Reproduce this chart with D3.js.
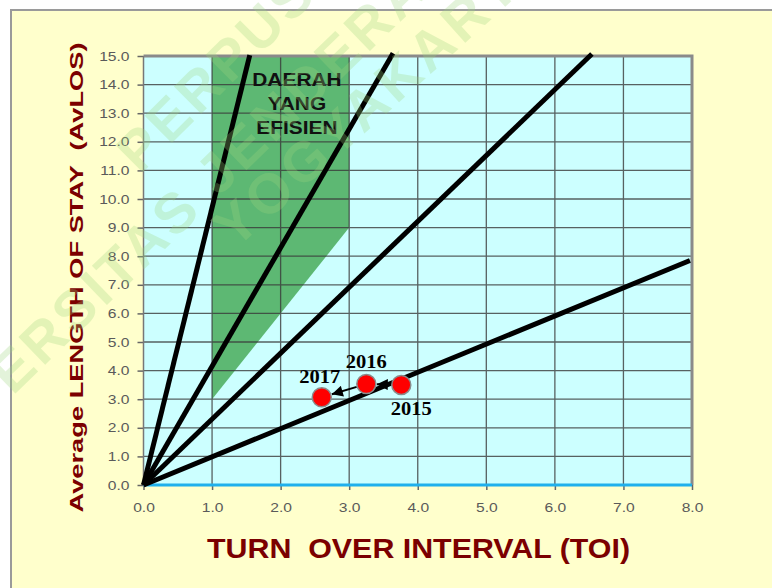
<!DOCTYPE html>
<html>
<head>
<meta charset="utf-8">
<script src="https://cdn.jsdelivr.net/npm/d3@7/dist/d3.min.js"></script>
<style>
  body { margin: 0; background: #ffffff; }
  svg { display: block; }
  text { white-space: pre; }
</style>
</head>
<body>
<svg id="chart" width="772" height="588"></svg>
<script>
// Barber-Johnson graph: hospital bed efficiency 2015-2017

// Yearly indicators (TOI in days, AvLOS in days)
const years = ["2015", "2016", "2017"];
const toiValues = [3.76, 3.25, 2.60];
const losValues = [3.50, 3.53, 3.07];

// BOR reference lines, drawn from the origin to these end points
const borLineEndToi = [1.55, 3.64, 6.54, 7.97];
const borLineEndLos = [15.03, 15.10, 15.07, 7.85];

// Efficient region ("Daerah yang efisien") vertices
const efficientToi = [1, 3, 3, 1];
const efficientLos = [15, 15, 9, 3];

// Axis ticks
const xTickValues = [0, 1, 2, 3, 4, 5, 6, 7, 8];
const xTickLabels = ["0.0", "1.0", "2.0", "3.0", "4.0", "5.0", "6.0", "7.0", "8.0"];
const yTickValues = [0, 1, 2, 3, 4, 5, 6, 7, 8, 9, 10, 11, 12, 13, 14, 15];
const yTickLabels = ["0.0", "1.0", "2.0", "3.0", "4.0", "5.0", "6.0", "7.0", "8.0",
                     "9.0", "10.0", "11.0", "12.0", "13.0", "14.0", "15.0"];

// Label placement around each year's point (pixels)
const yearLabelOffset = { "2015": [10, 30], "2016": [0, -16], "2017": [-2, -14] };

const svg = d3.select("#chart");
const x = d3.scaleLinear().domain([0, 8]).range([143.5, 692]);
const y = d3.scaleLinear().domain([0, 15]).range([485, 56]);

// Widen text horizontally by a factor
function stretch(sel, f) {
  sel.each(function () {
    const w = this.getComputedTextLength();
    d3.select(this).attr("textLength", w * f).attr("lengthAdjust", "spacingAndGlyphs");
  });
}

// Outer panel
svg.append("rect").attr("x", 11).attr("y", 10).attr("width", 800).attr("height", 600)
  .attr("fill", "#FFFFCC").attr("stroke", "#9a9a9a").attr("stroke-width", 2);

// Plot background
svg.append("rect")
  .attr("x", x(0)).attr("y", y(15))
  .attr("width", x(8) - x(0)).attr("height", y(0) - y(15))
  .attr("fill", "#CCFFFF");

// Efficient region
svg.append("polygon")
  .attr("points", efficientToi.map((t, i) => [x(t), y(efficientLos[i])].join(",")).join(" "))
  .attr("fill", "#5DB873");

// Grid
const grid = svg.append("g").attr("stroke", "#3a3a3a").attr("stroke-width", 1.3).attr("opacity", 0.8);
grid.selectAll(".v").data(xTickValues.filter(d => d > 0 && d < 8)).join("line")
  .attr("x1", d => x(d)).attr("x2", d => x(d)).attr("y1", y(0)).attr("y2", y(15));
grid.selectAll(".h").data(yTickValues.filter(d => d > 0 && d < 15)).join("line")
  .attr("x1", x(0)).attr("x2", x(8)).attr("y1", d => y(d)).attr("y2", d => y(d));

// Axes
const yAxis = d3.axisLeft(y).tickValues(yTickValues)
  .tickFormat((d, i) => yTickLabels[i]).tickSize(6).tickPadding(8);
const xAxis = d3.axisBottom(x).tickValues(xTickValues)
  .tickFormat((d, i) => xTickLabels[i]).tickSize(5).tickPadding(13);

const gy = svg.append("g").attr("transform", `translate(${x(0)},0)`).call(yAxis);
const gx = svg.append("g").attr("transform", `translate(0,${y(0)})`).call(xAxis);
[gx, gy].forEach(g => {
  g.select(".domain").remove();
  g.selectAll(".tick line").attr("stroke", "#666").attr("stroke-width", 1.5);
  g.selectAll(".tick text")
    .attr("fill", "#5a5a5a")
    .style("font-family", "Arial, 'Liberation Sans', sans-serif")
    .style("font-size", "13px");
});
stretch(gx.selectAll(".tick text"), 1.2);
stretch(gy.selectAll(".tick text"), 1.2);

// Plot frame: grey top/right, grey left axis, blue baseline
svg.append("path")
  .attr("d", `M${x(0)},${y(15)} H${x(8)} V${y(0)}`)
  .attr("fill", "none").attr("stroke", "#8a8a8a").attr("stroke-width", 3);
svg.append("line").attr("x1", x(0)).attr("x2", x(0)).attr("y1", y(15)).attr("y2", y(0))
  .attr("stroke", "#777").attr("stroke-width", 1.5);
svg.append("line").attr("x1", x(0)).attr("x2", x(8)).attr("y1", y(0)).attr("y2", y(0))
  .attr("stroke", "#1FB0EC").attr("stroke-width", 3);

// Area label
const areaText = svg.append("text")
  .attr("x", 297).attr("y", 86)
  .attr("text-anchor", "middle")
  .style("font-family", "Arial, 'Liberation Sans', sans-serif")
  .style("font-weight", "bold").style("font-size", "19px").attr("fill", "#111");
["DAERAH", "YANG", "EFISIEN"].forEach((t, i) => {
  areaText.append("tspan").attr("x", 297).attr("y", 86 + i * 24).text(t);
});
areaText.selectAll("tspan").each(function () {
  const w = this.getComputedTextLength();
  d3.select(this).attr("textLength", w * 1.1).attr("lengthAdjust", "spacingAndGlyphs");
});

// BOR lines from origin
svg.append("g").selectAll("line").data(borLineEndToi).join("line")
  .attr("x1", x(0)).attr("y1", y(0))
  .attr("x2", d => x(d)).attr("y2", (d, i) => y(borLineEndLos[i]))
  .attr("stroke", "#000").attr("stroke-width", 5).attr("stroke-linecap", "butt");

// Arrow marker
svg.append("defs").append("marker")
  .attr("id", "arrowhead").attr("markerUnits", "userSpaceOnUse")
  .attr("viewBox", "0 0 10 10").attr("refX", 10).attr("refY", 5)
  .attr("markerWidth", 12).attr("markerHeight", 11).attr("orient", "auto")
  .append("path").attr("d", "M0,0 L10,5 L0,10 Z").attr("fill", "#000");

const pts = years.map((yr, i) => ({ yr, px: x(toiValues[i]), py: y(losValues[i]) }));
const r = 9.5;

// Arrows year to year
const arrows = svg.append("g");
for (let i = 0; i < pts.length - 1; i++) {
  const a = pts[i], b = pts[i + 1];
  const dx = b.px - a.px, dy = b.py - a.py, len = Math.hypot(dx, dy);
  const ux = dx / len, uy = dy / len;
  arrows.append("line")
    .attr("x1", a.px + ux * (r + 0.5)).attr("y1", a.py + uy * (r + 0.5))
    .attr("x2", b.px - ux * (r + 1)).attr("y2", b.py - uy * (r + 1))
    .attr("stroke", "#000").attr("stroke-width", 2)
    .attr("marker-end", "url(#arrowhead)");
}

// Year points
svg.append("g").selectAll("circle").data(pts).join("circle")
  .attr("cx", d => d.px).attr("cy", d => d.py).attr("r", r)
  .attr("fill", "#FF0000").attr("stroke", "#8a8a8a").attr("stroke-width", 1.5);

// Year labels
const yl = svg.append("g").selectAll("text").data(pts).join("text")
  .attr("x", d => d.px + yearLabelOffset[d.yr][0])
  .attr("y", d => d.py + yearLabelOffset[d.yr][1])
  .attr("text-anchor", "middle")
  .style("font-family", "'Liberation Serif', 'Times New Roman', serif")
  .style("font-weight", "bold").style("font-size", "19px")
  .attr("fill", "#000")
  .text(d => d.yr);
stretch(yl, 1.08);

// Axis titles
svg.append("text")
  .attr("transform", "translate(83,277.5) rotate(-90)")
  .attr("text-anchor", "middle")
  .style("font-family", "Arial, 'Liberation Sans', sans-serif")
  .style("font-weight", "bold").style("font-size", "18px")
  .attr("fill", "#7B0000")
  .attr("textLength", 470).attr("lengthAdjust", "spacingAndGlyphs")
  .text("Average LENGTH OF STAY  (AvLOS)");

svg.append("text")
  .attr("x", 418.5).attr("y", 558)
  .attr("text-anchor", "middle")
  .style("font-family", "Arial, 'Liberation Sans', sans-serif")
  .style("font-weight", "bold").style("font-size", "28px")
  .attr("fill", "#7B0000")
  .attr("textLength", 423).attr("lengthAdjust", "spacingAndGlyphs")
  .text("TURN  OVER INTERVAL (TOI)");

// Library watermark
const wm = svg.append("g").attr("opacity", 0.28).attr("fill", "#9ED67E")
  .style("font-family", "Arial, 'Liberation Sans', sans-serif")
  .style("font-weight", "bold").style("font-size", "56px")
  .style("letter-spacing", "4px");
[
  { t: "PERPUSTAKAAN", px: 140, py: 175, a: -45 },
  { t: "UNIVERSITAS JENDERAL ACHMAD YANI", px: -95, py: 500, a: -44 },
  { t: "YOGYAKARTA", px: 235, py: 250, a: -42 }
].forEach(w => {
  wm.append("text").attr("transform", `translate(${w.px},${w.py}) rotate(${w.a})`).text(w.t);
});
</script>
</body>
</html>
